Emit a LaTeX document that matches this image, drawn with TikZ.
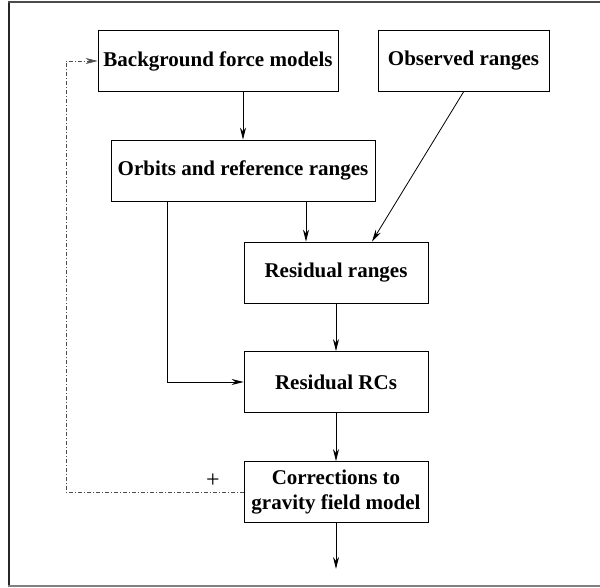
\documentclass[tikz,border=0pt]{standalone}
\usepackage{fontspec}
\setmainfont{Liberation Serif}
\usetikzlibrary{arrows.meta}

\begin{document}
\begin{tikzpicture}[x=1pt,y=-1pt,
    stage/.style={draw,line width=0.9pt,minimum height=61pt,align=center,
        font=\fontsize{21}{25}\selectfont\bfseries},
    flow/.style={-{Stealth[length=12pt,width=6pt]},line width=0.8pt},
    feedback/.style={flow,line width=0.6pt,black!70,
        dash pattern=on 4pt off 2pt on 1pt off 2pt}]

    \useasboundingbox (0,0) rectangle (600,587);

    % page frame (left, top and bottom rules only)
    \draw[line width=2.5pt,black!85] (9,587) -- (9,1.5);
    \draw[line width=1.5pt,black!70] (8,2) -- (600,2);
    \draw[line width=1.2pt,black!50] (8,586) -- (600,586);

    \node[stage,minimum width=240pt] (bg) at (218,61) {Background force models};
    \node[stage,minimum width=171pt] (obs) at (463.5,61) {Observed ranges};

    \node[stage,minimum width=264pt] (orb) at (243,170.5) {Orbits and reference ranges};

    \node[stage,minimum width=184pt] (res) at (336,272.5) {Residual ranges};
    \node[stage,minimum width=184pt] (rcs) at (336,382) {Residual RCs};
    \node[stage,minimum width=184pt] (corr) at (336,492) {Corrections to\\gravity field model};

    \path (corr.south) ++(0,46) coordinate (out);
    \coordinate (loop) at (66,300);
    \node[font=\fontsize{24}{24}\selectfont] (plus) at (213,481) {+};

    \draw[flow] (orb.north |- bg.south) -- (orb.north);
    \draw[flow] ([xshift=63pt]orb.south) -- ([xshift=63pt]orb.south |- res.north);
    \draw[flow] (obs.south) -- ([xshift=36pt]res.north);

    \draw[flow] (res) -- (rcs);
    \draw[flow] ([xshift=-76pt]orb.south) |- (rcs.west);
    \draw[flow] (rcs) -- (corr);
    \draw[flow] (corr) -- (out);

    % correction fed back into the force models
    \draw[feedback] (corr.west) -| (loop) |- (bg.west);
\end{tikzpicture}
\end{document}
